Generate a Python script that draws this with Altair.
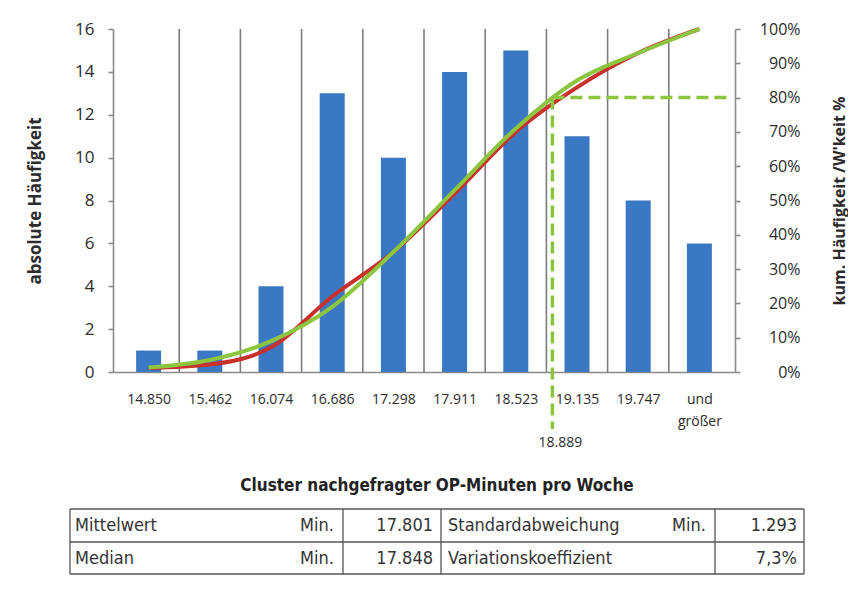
import altair as alt
import pandas as pd

# ---------------- data ----------------
bin_labels = ["14.850", "15.462", "16.074", "16.686", "17.298", "17.911",
              "18.523", "19.135", "19.747", "und größer"]
counts = [1, 1, 4, 13, 10, 14, 15, 11, 8, 6]
cum_empirical = [0.012, 0.022, 0.072, 0.22, 0.35, 0.52, 0.70, 0.83, 0.93, 1.0]
cum_normal = [0.013, 0.035, 0.09, 0.19, 0.35, 0.53, 0.71, 0.85, 0.93, 1.0]
quantile_level = 0.8
quantile_value = 18.889
quantile_label = "18.889"

x_title = "Cluster nachgefragter OP-Minuten pro Woche"
left_title = "absolute Häufigkeit"
right_title = "kum. Häufigkeit /W'keit %"
table_row1 = ["Mittelwert", "Min.", "17.801", "Standardabweichung", "Min.", "1.293"]
table_row2 = ["Median", "Min.", "17.848", "Variationskoeffizient", "", "7,3%"]

# ---------------- styling / layout ----------------
BLUE = "#3a78c4"
RED = "#c8302c"
GREEN = "#8cc63f"
GRID = "#7d7d7d"
AXIS = "#8a8a8a"
TXT = "#2b2b2b"
AX_FONT = "Open Sans"
NARROW = "Liberation Sans Narrow, DejaVu Sans Condensed, sans-serif"
W, H = 622, 343

idx = list(range(len(bin_labels)))
df = pd.DataFrame({"i": idx, "label": bin_labels, "count": counts,
                   "emp": cum_empirical, "norm": cum_normal})

label_expr = "split(" + "[" + ",".join("'" + s + "'" for s in bin_labels) + "][datum.value], ' ')"

xscale = alt.Scale(domain=[-0.5, len(bin_labels) - 0.5], nice=False, zero=False)
cnt_scale = alt.Scale(domain=[0, 16], nice=False)
pct_scale = alt.Scale(domain=[0, 1], nice=False)

X_AXIS = alt.Axis(values=idx, labelExpr=label_expr, ticks=False, tickSize=0,
                  grid=False, domainColor=AXIS, domainWidth=1.6, title=None,
                  labelFont=AX_FONT, labelFontSize=14, labelColor=TXT,
                  labelPadding=20, labelLineHeight=22)
YL_AXIS = alt.Axis(values=list(range(0, 17, 2)), grid=False, orient="left",
                   domainColor=AXIS, domainWidth=1.6, tickColor=AXIS,
                   tickWidth=1.6, tickSize=5, labelFont=AX_FONT,
                   labelFontSize=17, labelColor=TXT, labelPadding=14,
                   title=left_title, titleFont=AX_FONT, titleFontSize=17,
                   titleFontWeight="bold", titleColor=TXT, titlePadding=30)
YR_AXIS = alt.Axis(orient="right", values=[j / 10 for j in range(11)],
                   format=".0%", grid=False, domainColor=AXIS, domainWidth=1.6,
                   tickColor=AXIS, tickWidth=1.6, tickSize=5,
                   labelFont=AX_FONT, labelFontSize=16, labelColor=TXT,
                   labelAlign="right", labelPadding=60,
                   title=right_title, titleFont=AX_FONT, titleFontSize=16,
                   titleFontWeight="bold", titleColor=TXT, titleAngle=270,
                   titleBaseline="top", titlePadding=31)

# position of the quantile in index space (interpolated between bin labels)
numeric = [float(s) for s in bin_labels[:-1]]
k = max(j for j in range(len(numeric) - 1) if numeric[j] <= quantile_value)
q_pos = k + (quantile_value - numeric[k]) / (numeric[k + 1] - numeric[k])

base = alt.Chart(df)

grid_df = pd.DataFrame({"i": [j + 0.5 for j in idx[:-1]]})
grid = alt.Chart(grid_df).mark_rule(color=GRID, strokeWidth=1.6).encode(
    x=alt.X("i:Q", scale=xscale, axis=X_AXIS),
    y=alt.value(0), y2=alt.value(H),
)
bars = base.mark_bar(color=BLUE, size=25).encode(
    x=alt.X("i:Q", scale=xscale, axis=X_AXIS),
    y=alt.Y("count:Q", scale=cnt_scale, axis=YL_AXIS),
)
left = alt.layer(grid, bars)

red = base.mark_line(color=RED, strokeWidth=4, interpolate="monotone").encode(
    x=alt.X("i:Q", scale=xscale, axis=X_AXIS),
    y=alt.Y("emp:Q", scale=pct_scale, axis=YR_AXIS),
)
green = base.mark_line(color=GREEN, strokeWidth=4, interpolate="monotone").encode(
    x=alt.X("i:Q", scale=xscale, axis=X_AXIS),
    y=alt.Y("norm:Q", scale=pct_scale, axis=YR_AXIS),
)
q_df = pd.DataFrame({"pos": [q_pos], "end": [len(bin_labels) - 0.5],
                     "lvl": [quantile_level], "txt": [quantile_label]})
hdash = alt.Chart(q_df).mark_rule(color=GREEN, strokeWidth=3.5, strokeDash=[12, 6]).encode(
    x=alt.X("pos:Q", scale=xscale, axis=X_AXIS), x2="end:Q",
    y=alt.Y("lvl:Q", scale=pct_scale, axis=YR_AXIS),
)
vdash = alt.Chart(q_df).mark_rule(color=GREEN, strokeWidth=3.5, strokeDash=[12, 6]).encode(
    x=alt.X("pos:Q", scale=xscale, axis=X_AXIS),
    y=alt.Y("lvl:Q", scale=pct_scale, axis=YR_AXIS),
    y2=alt.value(400),
)
qtext = alt.Chart(q_df).mark_text(font=AX_FONT, fontSize=14, color=TXT,
                                  baseline="middle", align="center", dx=8).encode(
    x=alt.X("pos:Q", scale=xscale, axis=X_AXIS),
    y=alt.value(414),
    text="txt:N",
)
right = alt.layer(red, green, hdash, vdash, qtext)

# ---------------- title & statistics table (pixel layout) ----------------
one = pd.DataFrame({"k": [0]})
extras = [
    alt.Chart(one).mark_text(font=NARROW, fontSize=17, fontWeight="bold", color="#222",
                             align="center", baseline="middle", text=x_title).encode(
        x=alt.value(324), y=alt.value(457))
]

col_lines = [-43, 230, 328, 602, 691]
row_lines = [480, 513, 545]
for yv in row_lines:
    extras.append(alt.Chart(one).mark_rule(color="#555", strokeWidth=1.3).encode(
        x=alt.value(col_lines[0]), x2=alt.value(col_lines[-1]),
        y=alt.value(yv), y2=alt.value(yv)))
for xv in col_lines:
    extras.append(alt.Chart(one).mark_rule(color="#555", strokeWidth=1.3).encode(
        x=alt.value(xv), x2=alt.value(xv),
        y=alt.value(row_lines[0]), y2=alt.value(row_lines[-1])))

cell_x = [-38, 221, 320, 335, 593, 684]
cell_align = ["left", "right", "right", "left", "right", "right"]
row_y = [497, 530]
for r, row in enumerate([table_row1, table_row2]):
    for c, t in enumerate(row):
        if t:
            extras.append(alt.Chart(one).mark_text(
                font=NARROW, fontSize=18, color="#333", align=cell_align[c],
                baseline="middle", text=t).encode(
                x=alt.value(cell_x[c]), y=alt.value(row_y[r])))

main = alt.layer(left, right).resolve_scale(y="independent")

chart = alt.layer(main, *extras).properties(
    width=W, height=H,
    padding={"left": 105, "top": 21, "right": 113, "bottom": 205},
    autosize=alt.AutoSizeParams(type="none"),
    background="white",
).configure_view(stroke=None)

chart.save("out.html", embed_options={"renderer": "svg", "actions": False})
